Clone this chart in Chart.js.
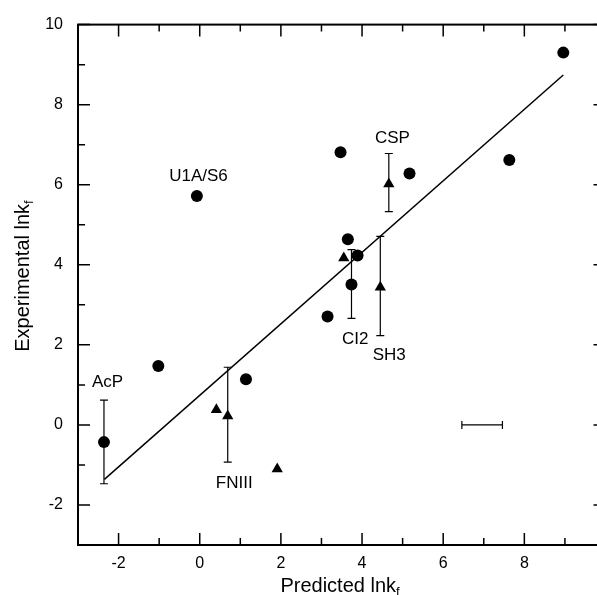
<!DOCTYPE html>
<html>
<head>
<meta charset="utf-8">
<script src="https://cdn.jsdelivr.net/npm/chart.js@4/dist/chart.umd.min.js"></script>
<style>
  html, body { margin: 0; padding: 0; background: #fff; overflow: hidden; }
  canvas { display: block; }
</style>
</head>
<body>
<canvas id="foldChart" width="612" height="595"></canvas>
<script>
// filled circles
const circleX = [-2.36, -1.02, 1.14, -0.07, 3.15, 3.47, 3.65, 3.89, 3.74, 5.17, 7.63, 8.96];
const circleY = [-0.43, 1.47, 1.14, 5.72, 2.71, 6.81, 4.64, 4.23, 3.51, 6.28, 6.62, 9.30];

// filled triangles
const triX = [0.41, 0.69, 1.91, 3.55, 4.66, 4.45];
const triY = [0.38, 0.22, -1.10, 4.17, 6.02, 3.44];

// vertical error bars
const errX = [-2.36, 0.69, 3.74, 4.66, 4.45];
const errLow = [-1.47, -0.93, 2.66, 5.33, 2.23];
const errHigh = [0.62, 1.44, 4.38, 6.78, 4.71];

// horizontal scale bar
const scaleBarX = [6.46, 7.46];
const scaleBarY = 0;

// regression line end points
const fitX = [-2.35, 8.96];
const fitY = [-1.36, 8.74];

// protein labels
const labelNames = ["U1A/S6", "CSP", "AcP", "FNIII", "CI2", "SH3"];
const labelX = [-0.03, 4.75, -2.27, 0.85, 3.83, 4.67];
const labelY = [6.22, 7.15, 1.07, -1.47, 2.15, 1.74];

const axisMin = -3;
const axisMax = 10;

const FONT = "'Liberation Sans', Arial, Helvetica, sans-serif";

const overlay = {
  id: "overlay",
  afterDatasetsDraw(chart) {
    const { ctx, chartArea: a, scales: { x, y } } = chart;
    ctx.save();
    ctx.strokeStyle = "#000";
    ctx.fillStyle = "#000";

    // error bars
    ctx.lineWidth = 1.2;
    errX.forEach((v, i) => {
      const px = x.getPixelForValue(v);
      const lo = y.getPixelForValue(errLow[i]);
      const hi = y.getPixelForValue(errHigh[i]);
      ctx.beginPath();
      ctx.moveTo(px, lo); ctx.lineTo(px, hi);
      ctx.moveTo(px - 4, lo); ctx.lineTo(px + 4, lo);
      ctx.moveTo(px - 4, hi); ctx.lineTo(px + 4, hi);
      ctx.stroke();
    });

    // scale bar
    const sy = y.getPixelForValue(scaleBarY);
    const sx0 = x.getPixelForValue(scaleBarX[0]);
    const sx1 = x.getPixelForValue(scaleBarX[1]);
    ctx.beginPath();
    ctx.moveTo(sx0, sy); ctx.lineTo(sx1, sy);
    ctx.moveTo(sx0, sy - 4); ctx.lineTo(sx0, sy + 4);
    ctx.moveTo(sx1, sy - 4); ctx.lineTo(sx1, sy + 4);
    ctx.stroke();

    // labels
    ctx.font = "17px " + FONT;
    ctx.textAlign = "center";
    ctx.textBaseline = "middle";
    labelNames.forEach((t, i) => {
      ctx.fillText(t, x.getPixelForValue(labelX[i]), y.getPixelForValue(labelY[i]));
    });

    // frame
    ctx.lineWidth = 2;
    ctx.strokeRect(a.left, a.top, a.right - a.left, a.bottom - a.top);

    // inward ticks on all four sides
    ctx.lineWidth = 1.5;
    for (let v = axisMin; v <= axisMax; v++) {
      const len = v % 2 === 0 ? 12 : 7;
      const px = x.getPixelForValue(v);
      const py = y.getPixelForValue(v);
      ctx.beginPath();
      ctx.moveTo(px, a.bottom); ctx.lineTo(px, a.bottom - len);
      ctx.moveTo(px, a.top); ctx.lineTo(px, a.top + len);
      ctx.moveTo(a.left, py); ctx.lineTo(a.left + len, py);
      ctx.moveTo(a.right, py); ctx.lineTo(a.right - len, py);
      ctx.stroke();
    }

    // axis titles with subscript f
    const drawTitle = (main, cx, cy) => {
      ctx.font = "20px " + FONT;
      const w1 = ctx.measureText(main).width;
      ctx.font = "13px " + FONT;
      const w2 = ctx.measureText("f").width;
      const start = cx - (w1 + w2) / 2;
      ctx.textAlign = "left";
      ctx.textBaseline = "alphabetic";
      ctx.font = "20px " + FONT;
      ctx.fillText(main, start, cy);
      ctx.font = "13px " + FONT;
      ctx.fillText("f", start + w1, cy + 4);
    };
    drawTitle("Predicted lnk", 340, 592);
    ctx.save();
    ctx.translate(29, 276);
    ctx.rotate(-Math.PI / 2);
    drawTitle("Experimental lnk", 0, 0);
    ctx.restore();

    ctx.restore();
  },
};

// labels only on even values; the x label at 10 lies outside the picture
const xTickCallback = (v) => (v % 2 === 0 && v < axisMax ? v : "");
const yTickCallback = (v) => (v % 2 === 0 ? v : "");

new Chart(document.getElementById("foldChart"), {
  type: "scatter",
  data: {
    datasets: [
      {
        type: "line",
        data: fitX.map((v, i) => ({ x: v, y: fitY[i] })),
        borderColor: "#000",
        borderWidth: 1.5,
        pointRadius: 0,
        fill: false,
      },
      {
        data: circleX.map((v, i) => ({ x: v, y: circleY[i] })),
        pointStyle: "circle",
        pointRadius: 6,
        backgroundColor: "#000",
        borderColor: "#000",
        borderWidth: 0,
      },
      {
        data: triX.map((v, i) => ({ x: v, y: triY[i] })),
        pointStyle: "triangle",
        pointRadius: 6.5,
        backgroundColor: "#000",
        borderColor: "#000",
        borderWidth: 0,
      },
    ],
  },
  plugins: [overlay],
  options: {
    responsive: false,
    animation: false,
    layout: { padding: { left: 0, right: 6, top: 20, bottom: 0 } },
    plugins: { legend: { display: false }, tooltip: { enabled: false } },
    scales: {
      x: {
        type: "linear",
        min: axisMin,
        max: axisMax,
        afterFit: (s) => { s.height = 50; s.paddingRight = 0; },
        grid: { display: false, drawTicks: false },
        border: { display: false },
        ticks: {
          stepSize: 1,
          autoSkip: false,
          maxRotation: 0,
          padding: 9,
          color: "#000",
          font: { family: FONT, size: 16 },
          callback: xTickCallback,
        },
      },
      y: {
        type: "linear",
        min: axisMin,
        max: axisMax,
        afterFit: (s) => { s.width = 78; },
        grid: { display: false, drawTicks: false },
        border: { display: false },
        ticks: {
          stepSize: 1,
          autoSkip: false,
          padding: 15,
          color: "#000",
          font: { family: FONT, size: 16 },
          callback: yTickCallback,
        },
      },
    },
  },
});
</script>
</body>
</html>
